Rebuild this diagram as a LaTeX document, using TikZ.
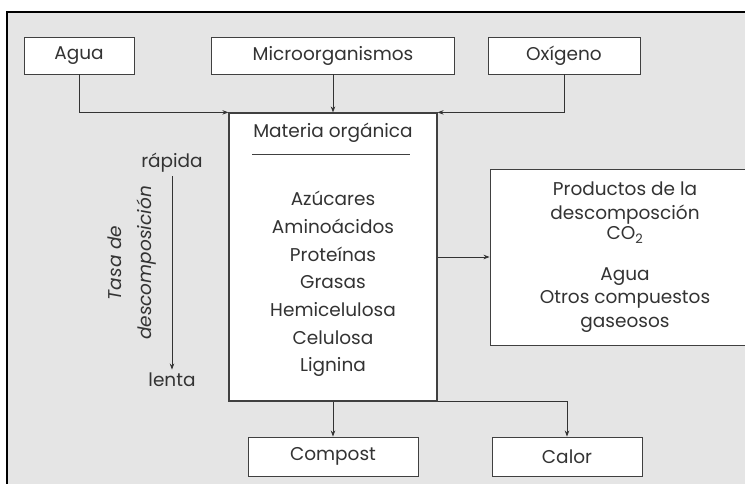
\documentclass[tikz,border=0pt]{standalone}
\usepackage{fontspec}
\setmainfont{Poppins}
\usetikzlibrary{arrows.meta}

\begin{document}
\begin{tikzpicture}[x=1pt, y=-1pt,
    every node/.style={font=\fontsize{18.5}{23.5}\selectfont, text=black!80},
    caja/.style={draw=black!75, fill=white, line width=0.9pt, inner sep=0pt},
    flecha/.style={draw=black!80, line width=0.7pt, -{Stealth[length=6pt, width=4.5pt]}}]
    % Canvas and grey frame
    \useasboundingbox (0,0) rectangle (745,484);
    \draw[line width=1.6pt, fill=black!10] (7,12) rectangle (760,500);

    % Inputs
    \node[caja, minimum width=110, minimum height=37] (agua) at (79,55.5) {Agua};
    \node[caja, minimum width=243, minimum height=37] (micro) at (333,55.5) {Microorganismos};
    \node[caja, minimum width=152, minimum height=37] (oxigeno) at (564,55.5) {Oxígeno};

    % Central box
    \node[caja, line width=1.2pt, minimum width=208, minimum height=288] (materia) at (333,257) {};
    \node (titulo) at (333,133) {Materia orgánica};
    \draw[black!75, line width=0.8pt] (252,154) -- (410,154);
    \node[align=center, font=\fontsize{18.5}{27.7}\selectfont] (lista) at (333,284)
        {Azúcares\\Aminoácidos\\Proteínas\\Grasas\\Hemicelulosa\\Celulosa\\Lignina};

    % Decomposition rate
    \node (rapida) at (172,163) {rápida};
    \node (lenta) at (172,380) {lenta};
    \node[rotate=90, align=center, font=\fontsize{18.5}{30}\itshape] (tasa) at (132,263)
        {Tasa de\\descomposición};

    % Outputs
    \node[caja, minimum width=270, minimum height=176, align=center] (productos) at (625,257)
        {Productos de la\\descomposción\\[-3pt]CO\textsubscript{2}\\[17pt]Agua\\Otros compuestos\\gaseosos};
    \node[caja, minimum width=170, minimum height=39] (compost) at (333,456.5) {Compost};
    \node[caja, minimum width=150, minimum height=39] (calor) at (567,456.5) {Calor};

    % Connectors
    \draw[flecha] (agua.south) |- (materia.north west);
    \draw[flecha] (micro.south) -- (materia.north);
    \draw[flecha] (oxigeno.south) |- (materia.north east);
    \draw[flecha] (rapida.south) -- (lenta.north);
    \draw[flecha] (materia.east) -- (productos.west);
    \draw[flecha] (materia.south) -- (compost.north);
    \draw[flecha] (materia.south east) -| (calor.north);
\end{tikzpicture}
\end{document}
